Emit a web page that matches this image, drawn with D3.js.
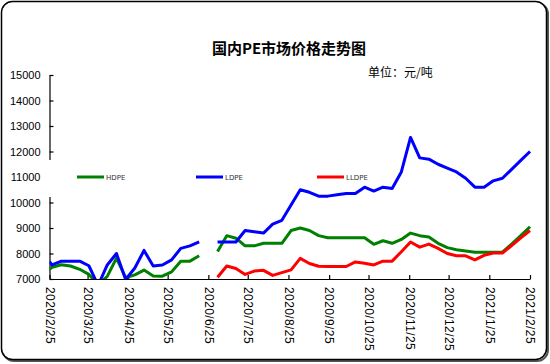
<!DOCTYPE html>
<html><head><meta charset="utf-8">
<script src="https://cdn.jsdelivr.net/npm/d3@7"></script>
<style>
html,body{margin:0;padding:0;background:#fff;}
svg{display:block;}
</style></head>
<body>
<svg id="c" width="550" height="364"></svg>
<script>
const dates = ["2020/2/25","2020/2/27","2020/3/5","2020/3/12","2020/3/19","2020/3/26","2020/4/2","2020/4/9","2020/4/16","2020/4/23","2020/4/30","2020/5/7","2020/5/14","2020/5/21","2020/5/28","2020/6/4","2020/6/11","2020/6/18","2020/6/25","2020/7/2","2020/7/9","2020/7/16","2020/7/23","2020/7/30","2020/8/6","2020/8/13","2020/8/20","2020/8/27","2020/9/3","2020/9/10","2020/9/17","2020/9/24","2020/10/1","2020/10/8","2020/10/15","2020/10/22","2020/10/29","2020/11/5","2020/11/12","2020/11/19","2020/11/26","2020/12/3","2020/12/10","2020/12/17","2020/12/24","2020/12/31","2021/1/7","2021/1/14","2021/1/21","2021/1/28","2021/2/4","2021/2/11","2021/2/18","2021/2/25"];
const hdpe = [7380,7460,7560,7510,7380,7180,6780,7100,7820,7050,7160,7350,7120,7110,7280,7700,7700,7910,null,
  8080,8700,8600,8300,8300,8400,8400,8400,8900,9000,8900,8700,8620,8620,8620,8620,8620,8360,8500,8400,8550,8800,8700,8650,8400,8230,8150,8100,8050,8050,8050,8050,8370,8700,9050];
const ldpe = [7680,7550,7700,7700,7700,7520,6750,7550,8000,6980,7430,8120,7510,7550,7750,8200,8300,8460,null,
  8450,8450,8450,8900,8850,8800,9150,9300,9900,10500,10400,10250,10250,10300,10350,10350,10600,10450,10600,10550,11200,12550,11750,11700,11500,11350,11200,10950,10600,10600,10850,10950,11300,11650,12000];
const lldpe = [null,null,null,null,null,null,null,null,null,null,null,null,null,null,null,null,null,null,null,
  7070,7510,7410,7180,7310,7340,7140,7250,7360,7810,7610,7500,7490,7490,7490,7670,7620,7550,7700,7700,8070,8450,8250,8370,8200,8000,7910,7910,7750,7930,8020,8020,8310,8610,8900];
const seriesNames = ["HDPE","LDPE","LLDPE"];
const seriesColors = ["#008000","#0000ff","#ff0000"];
const yTicks = [7000,8000,9000,10000,11000,12000,13000,14000,15000];
const xTickLabels = ["2020/2/25","2020/3/25","2020/4/25","2020/5/25","2020/6/25","2020/7/25","2020/8/25","2020/9/25","2020/10/25","2020/11/25","2020/12/25","2021/1/25","2021/2/25"];
const titleText = "国内PE市场价格走势图";
const unitText = "单位：元/吨";

(function(){
const parse = d3.timeParse("%Y/%m/%d");
const svg = d3.select("#c");
const W = 550, H = 364;
const pL = 49.5, pR = 530, pT = 75, pB = 279;

const x = d3.scaleTime().domain([parse(xTickLabels[0]), parse(xTickLabels[xTickLabels.length-1])]).range([pL, pR]);
const y = d3.scaleLinear().domain([7000,15000]).range([pB, pT]);

// frame
svg.append("rect").attr("x",0).attr("y",0).attr("width",W).attr("height",H).attr("fill","#fff");
svg.append("rect").attr("x",3).attr("y",3).attr("width",545).attr("height",358).attr("rx",11)
  .attr("fill","none").attr("stroke","#555").attr("stroke-width",2);
svg.append("rect").attr("x",1.5).attr("y",1.5).attr("width",545).attr("height",358).attr("rx",11)
  .attr("fill","#fff").attr("stroke","#000").attr("stroke-width",1.5);

// title
svg.append("text").attr("x",289).attr("y",54).attr("text-anchor","middle")
  .style("font-family","'Noto Sans CJK SC',sans-serif").style("font-size","15px").style("font-weight","bold")
  .text(titleText);
svg.append("text").attr("x",368).attr("y",77)
  .style("font-family","'Noto Sans CJK SC',sans-serif").style("font-size","12px")
  .text(unitText);

// axes
const yAxis = d3.axisLeft(y).tickValues(yTicks).tickSizeInner(-4).tickSizeOuter(0).tickPadding(9).tickFormat(d3.format("d"));
const gy = svg.append("g").attr("transform",`translate(${pL},0)`).call(yAxis);
const xAxis = d3.axisBottom(x).tickValues(xTickLabels.map(parse)).tickSizeInner(-4).tickSizeOuter(0)
  .tickFormat((d,i)=>xTickLabels[i]);
const gx = svg.append("g").attr("transform",`translate(0,${pB})`).call(xAxis);
[gx,gy].forEach(g=>{
  g.select(".domain").attr("stroke","#000").attr("stroke-width",1.2);
  g.selectAll(".tick line").attr("stroke","#000").attr("stroke-width",1.2);
  g.selectAll("text").attr("fill","#000").style("font-family","'Liberation Sans',Arial,sans-serif");
});
gy.selectAll("text").style("font-size","11px");
gx.selectAll("text").style("font-size","12px").style("letter-spacing","0.4px")
  .attr("transform","rotate(90)").attr("x",8).attr("y",0).attr("dy","0.35em").style("text-anchor","start");

// legend background (covers axis)
const legY = y(11000);
svg.append("rect").attr("x",44).attr("y",160).attr("width",10).attr("height",37).attr("fill","#fff");

// lines
svg.append("clipPath").attr("id","clip").append("rect")
  .attr("x",pL).attr("y",pT-5).attr("width",pR-pL+2).attr("height",pB-pT+5);
const allSeries = [hdpe, ldpe, lldpe];
const line = d3.line().defined(d=>d[1]!=null).x(d=>x(parse(d[0]))).y(d=>y(d[1]));
allSeries.forEach((vals,i)=>{
  const pts = dates.map((dt,j)=>[dt, vals[j]]);
  svg.append("path").datum(pts).attr("d",line).attr("fill","none")
    .attr("stroke",seriesColors[i]).attr("stroke-width",3).attr("stroke-linejoin","round")
    .attr("clip-path","url(#clip)");
});

// legend
const legX = [77, 196, 317];
seriesNames.forEach((n,i)=>{
  svg.append("line").attr("x1",legX[i]).attr("x2",legX[i]+27).attr("y1",legY).attr("y2",legY)
    .attr("stroke",seriesColors[i]).attr("stroke-width",3);
  svg.append("text").attr("x",legX[i]+29).attr("y",legY+2.5)
    .style("font-family","'DejaVu Sans',sans-serif").style("font-size","7px").attr("fill","#333").text(n);
});
})();
</script>
</body></html>
